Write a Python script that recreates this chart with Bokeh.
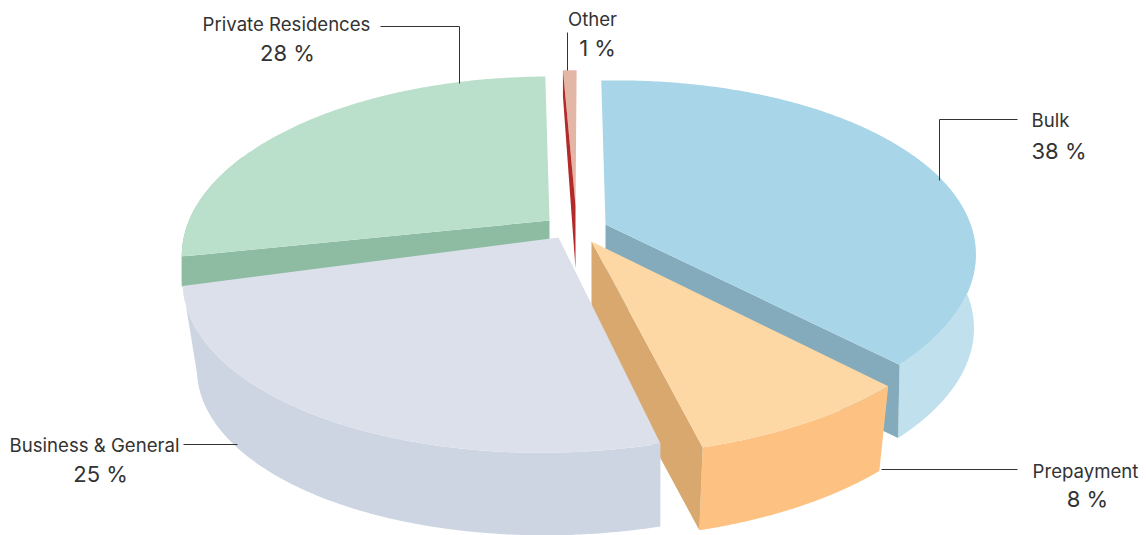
import numpy as np
from bokeh.core.properties import value
from bokeh.embed import file_html
from bokeh.plotting import figure
from bokeh.resources import INLINE

# Shares of the total
categories = ["Bulk", "Prepayment", "Business & General", "Private Residences", "Other"]
shares = [38, 8, 25, 28, 1]
share_labels = ["38 %", "8 %", "25 %", "28 %", "1 %"]

# Slice styling
top_colors = ["#a8d6e8", "#fdd7a4", "#dce0ea", "#bae0cc", "#e3b6a6"]
wall_colors = ["#bfe0ec", "#fdc281", "#ced5e2", "#8dbca2", "#e3b6a6"]
cut_colors = ["#84abbb", "#d8a86f", None, "#8dbca2", "#b32a2a"]
cut_side = ["end", "end", None, "start", "start"]

# Exploded layout of the slices in page pixels
apex_x = [605, 591, 558, 549, 575]
apex_y = [224, 241, 237, 220, 205]
scale_x = [1.0, 1.03, 1.015, 0.993, 0.72]
scale_y = [1.0, 1.0, 1.0, 1.0, 0.94]
depth_apex = [74, 89, 89, 30, 63]
depth_rim = [74, 89, 89, 30, 26]
lower_scale = [0.995, 0.97, 0.97, 1.0, 1.0]
lower_dx = [0, 0, 3, 0, 0]
spin = [-0.2, -1.5, -2.5, -3.8, -1.3]
shear = [-0.015, -0.012, -0.022, 0.0, 0.0]

# Perspective of the disc
START_ANGLE = 91.0
RX, RY, TILT = 363.0, 172.5, 0.198

WIDTH, HEIGHT = 1146, 535
TEXT_COLOR = "#333333"
FONT = "Inter"

# name label, share label, leader path
label_layout = {
    "Bulk": ((1031, 119, "left"), (1031, 150, "left"), [[(1017, 119), (939, 119)], [(939, 119), (939, 180)]]),
    "Prepayment": ((1085, 470, "center"), (1087, 498, "center"), [[(881, 469), (1017, 469)]]),
    "Business & General": ((94, 444, "center"), (100, 473, "center"), [[(183, 444), (237, 444)]]),
    "Private Residences": ((286, 23, "center"), (287, 52, "center"), [[(380, 26), (459, 26)], [(459, 26), (459, 83)]]),
    "Other": ((592, 18, "center"), (597, 47, "center"), [[(567, 32), (567, 70)]]),
}


def project(i, theta_deg, shrink=1.0, dx=0.0, dy=0.0):
    """Point on the rim of slice i, seen through the disc's perspective."""
    t = np.radians(theta_deg)
    u, v = np.cos(t), np.sin(t)
    w = 1 + TILT * v
    px = shrink * scale_x[i] * RX * u / w
    py = -shrink * scale_y[i] * RY * v / w + shear[i] * px
    return apex_x[i] + dx + px, apex_y[i] + dy + py


p = figure(
    width=WIDTH, height=HEIGHT, x_range=(0, WIDTH), y_range=(HEIGHT, 0),
    output_backend="svg", toolbar_location=None, min_border=0,
)
p.axis.visible = False
p.grid.visible = False
p.outline_line_color = None
p.background_fill_color = "white"
p.border_fill_color = "white"

# Clockwise span of every slice from its share
spans = np.array(shares) / sum(shares) * 360.0
ends = START_ANGLE - np.cumsum(spans)
starts = ends + spans


def draw_slice(i):
    a0, a1 = starts[i] + spin[i], ends[i] + spin[i]
    theta = np.linspace(a0, a1, 200)
    ax, ay = apex_x[i], apex_y[i]
    top_x, top_y = project(i, theta)

    # Outer wall: only the part of the rim turned towards the viewer
    if i != 4:
        front = theta[np.sin(np.radians(theta)) < 0.4]
        wx, wy = project(i, front)
        lx, ly = project(i, front, lower_scale[i], lower_dx[i], depth_apex[i])
        p.patch(np.r_[wx, lx[::-1]], np.r_[wy, ly[::-1]], fill_color=wall_colors[i], line_color=None)

    # Radial cut face, under the top face on the wide slices
    def cut_face():
        angle = a1 if cut_side[i] == "end" else a0
        rx0, ry0 = project(i, angle)
        rx1, ry1 = project(i, angle, lower_scale[i], lower_dx[i], depth_rim[i])
        p.patch(
            [ax, rx0, rx1, ax + lower_dx[i]],
            [ay, ry0, ry1, ay + depth_apex[i]],
            fill_color=cut_colors[i], line_color=None,
        )

    if cut_side[i] and i != 4:
        cut_face()
    p.patch(np.r_[ax, top_x], np.r_[ay, top_y], fill_color=top_colors[i], line_color=None)
    if i == 4:
        cut_face()


# Back slices first, Business & General last so that it covers the tip of Other
for i in [3, 4, 0, 1, 2]:
    draw_slice(i)

# Labels with their leader lines
for name, share in zip(categories, share_labels):
    (nx, ny, nalign), (vx, vy, valign), paths = label_layout[name]
    p.text(
        [nx], [ny], text=[name], text_font=value(FONT), text_font_size="18.6px", text_color=TEXT_COLOR,
        text_align=nalign, text_baseline="middle",
    )
    p.text(
        [vx], [vy], text=[share], text_font=value(FONT), text_font_size="22px", text_color=TEXT_COLOR,
        text_align=valign, text_baseline="middle",
    )
    for seg in paths:
        xs, ys = zip(*seg)
        p.line(list(xs), list(ys), line_color="#333333", line_width=1)

open("out.html", "w").write(file_html(p, INLINE))
